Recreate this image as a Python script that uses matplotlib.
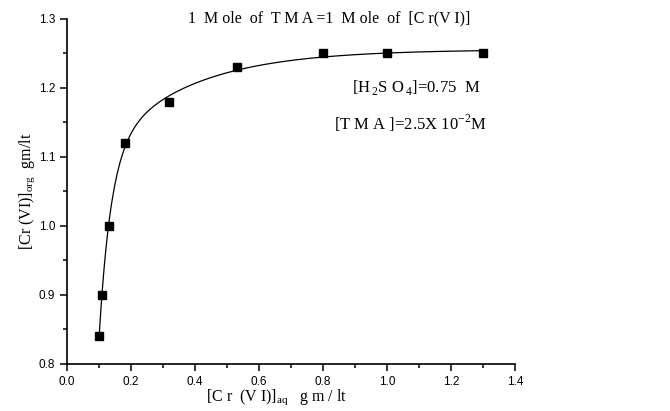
import matplotlib.pyplot as plt
import numpy as np
from matplotlib.ticker import MultipleLocator

plt.rcParams['font.family'] = 'Liberation Sans'
plt.rcParams['mathtext.fontset'] = 'custom'
plt.rcParams['mathtext.rm'] = 'Liberation Serif'
plt.rcParams['xtick.direction'] = 'out'
plt.rcParams['ytick.direction'] = 'out'

# measured points
cr_aq = [0.10, 0.11, 0.13, 0.18, 0.32, 0.53, 0.80, 1.00, 1.30]
cr_org = [0.84, 0.90, 1.00, 1.12, 1.18, 1.23, 1.25, 1.25, 1.25]

# smooth fit: y = A - B*exp(-k1 x) - C*exp(-k2 x), k1,k2 by grid search
xd = np.array(cr_aq)
yd = np.array(cr_org)
best = None
for k1 in np.linspace(2, 40, 77):
    for k2 in np.linspace(1, 15, 57):
        M = np.column_stack([np.ones_like(xd), -np.exp(-k1 * xd), -np.exp(-k2 * xd)])
        coef, *_ = np.linalg.lstsq(M, yd, rcond=None)
        err = np.sum((M @ coef - yd) ** 2)
        if best is None or err < best[0]:
            best = (err, k1, k2, coef)
_, k1, k2, coef = best
xf = np.linspace(0.1, 1.3, 300)
yf = coef[0] - coef[1] * np.exp(-k1 * xf) - coef[2] * np.exp(-k2 * xf)

fig = plt.figure(figsize=(6.7, 4.11), dpi=100)
ax = fig.add_axes([0.1, 0.1144, 0.6687, 0.8394])

ax.plot(xf, yf, color='black', lw=0.9)
ax.plot(cr_aq, cr_org, 's', color='black', ms=6.3)

ax.set_xlim(0, 1.4)
ax.set_ylim(0.8, 1.3)
ax.xaxis.set_minor_locator(MultipleLocator(0.1))
ax.yaxis.set_major_locator(MultipleLocator(0.1))
ax.yaxis.set_minor_locator(MultipleLocator(0.05))
ax.set_xticks(np.arange(0, 1.41, 0.2))
ax.set_xticklabels(['0.0', '0.2', '0.4', '0.6', '0.8', '1.0', '1.2', '1.4'])
ax.tick_params(which='major', length=5, width=1.1, labelsize=8.5)
ax.tick_params(which='minor', length=3, width=1.1)
ax.spines['top'].set_visible(False)
ax.spines['right'].set_visible(False)
ax.spines['left'].set_linewidth(1.2)
ax.spines['bottom'].set_linewidth(1.2)

serif = 'Liberation Serif'
ax.set_xlabel(r'[C r  (V I)]$_{\mathrm{aq}}$   g m / lt', family=serif, fontsize=11.5)
ax.xaxis.set_label_coords(0.468, -0.068)
ax.set_ylabel(r'[Cr (VI)]$_{\mathrm{org}}$  gm/lt', family=serif, fontsize=11.5)
ax.yaxis.set_label_coords(-0.068, 0.5)

fig.text(0.2806, 0.956, '1  M ole  of  T M A =1  M ole  of  [C r(V I)]', family=serif,
         fontsize=11.5, va='center', ha='left')
fig.text(0.717, 0.786, r'[H$_{\,2}$S O$_{\,4}$]=0.75  M', family=serif,
         fontsize=12, va='center', ha='right')
fig.text(0.727, 0.70, r'[T M A ]=2.5X 10$^{-2}$M', family=serif,
         fontsize=12, va='center', ha='right')

fig.savefig('out.png', dpi=100)
